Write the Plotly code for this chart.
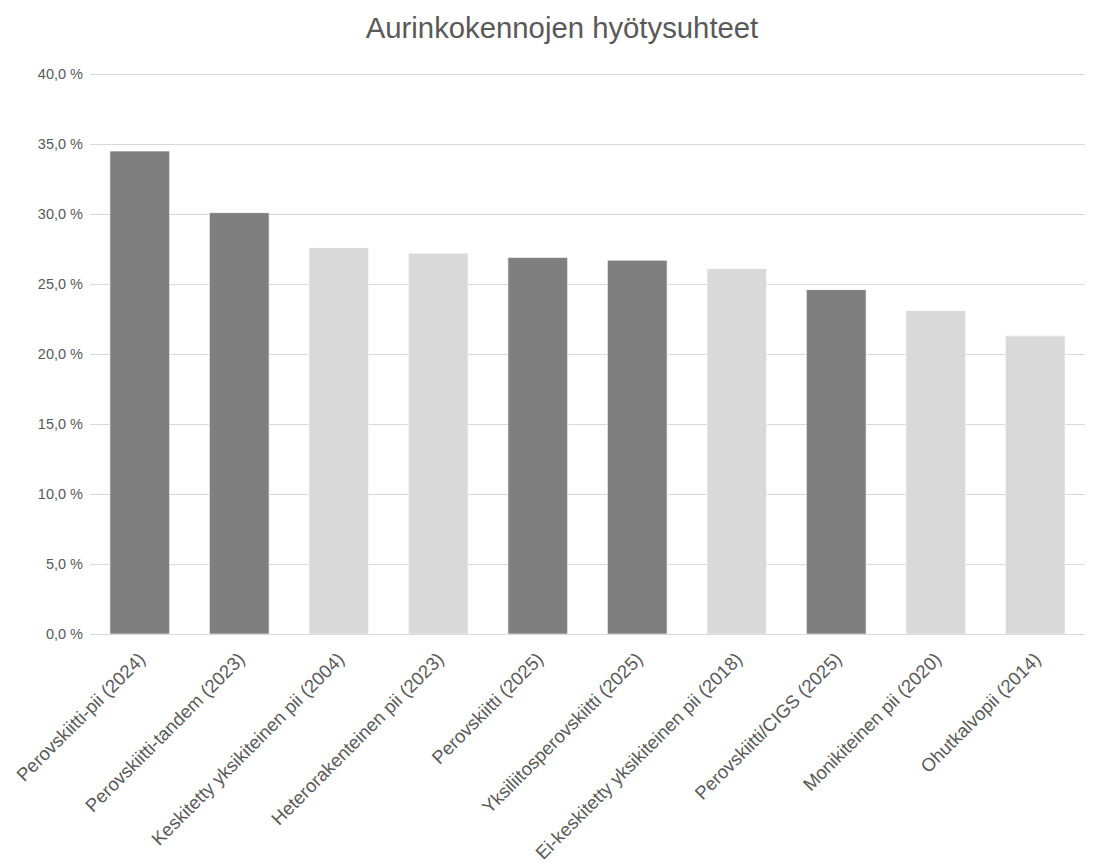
import plotly.graph_objects as go

categories = [
    "Perovskiitti-pii (2024)",
    "Perovskiitti-tandem (2023)",
    "Keskitetty yksikiteinen pii (2004)",
    "Heterorakenteinen pii (2023)",
    "Perovskiitti (2025)",
    "Yksiliitosperovskiitti (2025)",
    "Ei-keskitetty yksikiteinen pii (2018)",
    "Perovskiitti/CIGS (2025)",
    "Monikiteinen pii (2020)",
    "Ohutkalvopii (2014)",
]
efficiency = [34.5, 30.1, 27.6, 27.2, 26.9, 26.7, 26.1, 24.6, 23.1, 21.3]
perovskite = [True, True, False, False, True, True, False, True, False, False]

y_ticks = [0, 5, 10, 15, 20, 25, 30, 35, 40]
y_tick_text = ["0,0 %", "5,0 %", "10,0 %", "15,0 %", "20,0 %", "25,0 %", "30,0 %", "35,0 %", "40,0 %"]

DARK = "#7f7f7f"
LIGHT = "#d9d9d9"
colors = [DARK if p else LIGHT for p in perovskite]

fig = go.Figure(
    go.Bar(
        x=categories,
        y=efficiency,
        marker=dict(color=colors, line=dict(color="rgba(255,255,255,0.6)", width=1)),
        width=0.6,
        hoverinfo="x+y",
    )
)

font_family = "Liberation Sans, Arial, sans-serif"
fig.update_layout(
    width=1094,
    height=865,
    margin=dict(l=90, r=9, t=70, b=231),
    paper_bgcolor="white",
    plot_bgcolor="white",
    showlegend=False,
    title=dict(
        text="Aurinkokennojen hyötysuhteet",
        x=562 / 1094,
        xanchor="center",
        y=1 - 28 / 865,
        yanchor="middle",
        font=dict(family=font_family, size=29.3, color="#595959"),
    ),
    font=dict(family=font_family, size=14, color="#595959"),
)
fig.update_yaxes(
    range=[0, 40.29],
    tickvals=y_ticks,
    ticktext=y_tick_text,
    showgrid=True,
    gridcolor="#d9d9d9",
    gridwidth=1,
    zeroline=False,
    showline=False,
    ticks="",
    ticklabelstandoff=6,
    automargin=False,
    tickfont=dict(size=14.5, color="#595959"),
)
fig.update_xaxes(
    tickangle=-45,
    showline=True,
    linecolor="#d9d9d9",
    linewidth=1,
    ticks="",
    automargin=False,
    ticklabelstandoff=6,
    tickfont=dict(size=18.5, color="#595959"),
)

fig.write_html("out.html")
